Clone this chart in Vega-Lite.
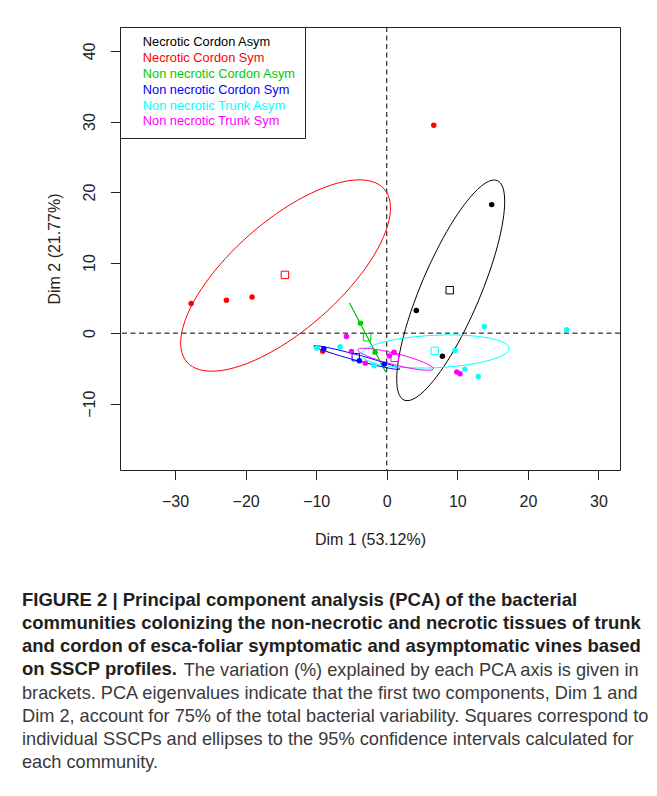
{
  "$schema": "https://vega.github.io/schema/vega-lite/v6.json",
  "autosize": {"type": "none"},
  "width": 500,
  "height": 443,
  "padding": {"left": 120, "top": 27, "right": 37, "bottom": 326},
  "background": "white",
  "datasets": {
    "pts": [
      {"group": "Necrotic Cordon Asym", "x": 14.87, "y": 18.22},
      {"group": "Necrotic Cordon Asym", "x": 4.19, "y": 3.2},
      {"group": "Necrotic Cordon Asym", "x": 7.88, "y": -3.26},
      {"group": "Necrotic Cordon Sym", "x": -27.72, "y": 4.19},
      {"group": "Necrotic Cordon Sym", "x": -22.72, "y": 4.67},
      {"group": "Necrotic Cordon Sym", "x": -19.08, "y": 5.14},
      {"group": "Necrotic Cordon Sym", "x": -9.07, "y": -2.55},
      {"group": "Necrotic Cordon Sym", "x": 6.66, "y": 29.46},
      {"group": "Non necrotic Cordon Asym", "x": -3.74, "y": 1.42},
      {"group": "Non necrotic Cordon Asym", "x": -1.66, "y": -2.69},
      {"group": "Non necrotic Cordon Sym", "x": -8.92, "y": -2.22},
      {"group": "Non necrotic Cordon Sym", "x": -3.88, "y": -3.92},
      {"group": "Non necrotic Cordon Sym", "x": -0.34, "y": -4.39},
      {"group": "Non necrotic Trunk Asym", "x": -9.92, "y": -2.12},
      {"group": "Non necrotic Trunk Asym", "x": -6.61, "y": -1.94},
      {"group": "Non necrotic Trunk Asym", "x": -1.8, "y": -4.63},
      {"group": "Non necrotic Trunk Asym", "x": 9.67, "y": -2.46},
      {"group": "Non necrotic Trunk Asym", "x": 13.82, "y": 0.93},
      {"group": "Non necrotic Trunk Asym", "x": 11.09, "y": -5.1},
      {"group": "Non necrotic Trunk Asym", "x": 12.97, "y": -6.15},
      {"group": "Non necrotic Trunk Asym", "x": 25.5, "y": 0.47},
      {"group": "Non necrotic Trunk Sym", "x": -5.72, "y": -0.48},
      {"group": "Non necrotic Trunk Sym", "x": -5.01, "y": -2.61},
      {"group": "Non necrotic Trunk Sym", "x": -3.03, "y": -4.25},
      {"group": "Non necrotic Trunk Sym", "x": 0.37, "y": -3.22},
      {"group": "Non necrotic Trunk Sym", "x": 1.03, "y": -2.69},
      {"group": "Non necrotic Trunk Sym", "x": 9.92, "y": -5.52},
      {"group": "Non necrotic Trunk Sym", "x": 10.38, "y": -5.76}
    ],
    "ctr": [
      {"group": "Necrotic Cordon Asym", "x": 8.92, "y": 6.09},
      {"group": "Necrotic Cordon Sym", "x": -14.43, "y": 8.26},
      {"group": "Non necrotic Cordon Asym", "x": -2.79, "y": -0.57},
      {"group": "Non necrotic Cordon Sym", "x": -4.39, "y": -3.4},
      {"group": "Non necrotic Trunk Asym", "x": 6.8, "y": -2.51},
      {"group": "Non necrotic Trunk Sym", "x": 1.13, "y": -3.5}
    ],
    "ell": [
      {"group": "Necrotic Cordon Asym", "i": 0, "x": 15.66, "y": 21.63},
      {"group": "Necrotic Cordon Asym", "i": 1, "x": 14.44, "y": 21.52},
      {"group": "Necrotic Cordon Asym", "i": 2, "x": 12.85, "y": 20.36},
      {"group": "Necrotic Cordon Asym", "i": 3, "x": 11.0, "y": 18.23},
      {"group": "Necrotic Cordon Asym", "i": 4, "x": 9.01, "y": 15.27},
      {"group": "Necrotic Cordon Asym", "i": 5, "x": 7.04, "y": 11.68},
      {"group": "Necrotic Cordon Asym", "i": 6, "x": 5.19, "y": 7.71},
      {"group": "Necrotic Cordon Asym", "i": 7, "x": 3.62, "y": 3.63},
      {"group": "Necrotic Cordon Asym", "i": 8, "x": 2.41, "y": -0.29},
      {"group": "Necrotic Cordon Asym", "i": 9, "x": 1.66, "y": -3.77},
      {"group": "Necrotic Cordon Asym", "i": 10, "x": 1.41, "y": -6.58},
      {"group": "Necrotic Cordon Asym", "i": 11, "x": 1.68, "y": -8.53},
      {"group": "Necrotic Cordon Asym", "i": 12, "x": 2.46, "y": -9.49},
      {"group": "Necrotic Cordon Asym", "i": 13, "x": 3.68, "y": -9.38},
      {"group": "Necrotic Cordon Asym", "i": 14, "x": 5.28, "y": -8.22},
      {"group": "Necrotic Cordon Asym", "i": 15, "x": 7.12, "y": -6.09},
      {"group": "Necrotic Cordon Asym", "i": 16, "x": 9.11, "y": -3.13},
      {"group": "Necrotic Cordon Asym", "i": 17, "x": 11.09, "y": 0.46},
      {"group": "Necrotic Cordon Asym", "i": 18, "x": 12.93, "y": 4.43},
      {"group": "Necrotic Cordon Asym", "i": 19, "x": 14.5, "y": 8.51},
      {"group": "Necrotic Cordon Asym", "i": 20, "x": 15.71, "y": 12.43},
      {"group": "Necrotic Cordon Asym", "i": 21, "x": 16.46, "y": 15.91},
      {"group": "Necrotic Cordon Asym", "i": 22, "x": 16.71, "y": 18.72},
      {"group": "Necrotic Cordon Asym", "i": 23, "x": 16.44, "y": 20.67},
      {"group": "Necrotic Cordon Sym", "i": 0, "x": -0.37, "y": 20.45},
      {"group": "Necrotic Cordon Sym", "i": 1, "x": -2.16, "y": 21.52},
      {"group": "Necrotic Cordon Sym", "i": 2, "x": -4.78, "y": 21.69},
      {"group": "Necrotic Cordon Sym", "i": 3, "x": -8.05, "y": 20.94},
      {"group": "Necrotic Cordon Sym", "i": 4, "x": -11.75, "y": 19.32},
      {"group": "Necrotic Cordon Sym", "i": 5, "x": -15.63, "y": 16.94},
      {"group": "Necrotic Cordon Sym", "i": 6, "x": -19.42, "y": 13.96},
      {"group": "Necrotic Cordon Sym", "i": 7, "x": -22.87, "y": 10.58},
      {"group": "Necrotic Cordon Sym", "i": 8, "x": -25.73, "y": 7.04},
      {"group": "Necrotic Cordon Sym", "i": 9, "x": -27.82, "y": 3.58},
      {"group": "Necrotic Cordon Sym", "i": 10, "x": -28.98, "y": 0.43},
      {"group": "Necrotic Cordon Sym", "i": 11, "x": -29.15, "y": -2.19},
      {"group": "Necrotic Cordon Sym", "i": 12, "x": -28.31, "y": -4.11},
      {"group": "Necrotic Cordon Sym", "i": 13, "x": -26.52, "y": -5.18},
      {"group": "Necrotic Cordon Sym", "i": 14, "x": -23.9, "y": -5.35},
      {"group": "Necrotic Cordon Sym", "i": 15, "x": -20.63, "y": -4.6},
      {"group": "Necrotic Cordon Sym", "i": 16, "x": -16.93, "y": -2.98},
      {"group": "Necrotic Cordon Sym", "i": 17, "x": -13.05, "y": -0.6},
      {"group": "Necrotic Cordon Sym", "i": 18, "x": -9.26, "y": 2.39},
      {"group": "Necrotic Cordon Sym", "i": 19, "x": -5.82, "y": 5.76},
      {"group": "Necrotic Cordon Sym", "i": 20, "x": -2.95, "y": 9.3},
      {"group": "Necrotic Cordon Sym", "i": 21, "x": -0.87, "y": 12.76},
      {"group": "Necrotic Cordon Sym", "i": 22, "x": 0.3, "y": 15.91},
      {"group": "Necrotic Cordon Sym", "i": 23, "x": 0.47, "y": 18.53},
      {"group": "Non necrotic Cordon Asym", "i": 0, "x": -5.27, "y": 4.28},
      {"group": "Non necrotic Cordon Asym", "i": 1, "x": -0.13, "y": -5.56},
      {"group": "Non necrotic Cordon Sym", "i": 0, "x": 1.85, "y": -5.11},
      {"group": "Non necrotic Cordon Sym", "i": 1, "x": 1.67, "y": -4.95},
      {"group": "Non necrotic Cordon Sym", "i": 2, "x": 1.09, "y": -4.69},
      {"group": "Non necrotic Cordon Sym", "i": 3, "x": 0.14, "y": -4.35},
      {"group": "Non necrotic Cordon Sym", "i": 4, "x": -1.11, "y": -3.95},
      {"group": "Non necrotic Cordon Sym", "i": 5, "x": -2.57, "y": -3.51},
      {"group": "Non necrotic Cordon Sym", "i": 6, "x": -4.15, "y": -3.07},
      {"group": "Non necrotic Cordon Sym", "i": 7, "x": -5.73, "y": -2.66},
      {"group": "Non necrotic Cordon Sym", "i": 8, "x": -7.21, "y": -2.3},
      {"group": "Non necrotic Cordon Sym", "i": 9, "x": -8.49, "y": -2.02},
      {"group": "Non necrotic Cordon Sym", "i": 10, "x": -9.48, "y": -1.84},
      {"group": "Non necrotic Cordon Sym", "i": 11, "x": -10.12, "y": -1.77},
      {"group": "Non necrotic Cordon Sym", "i": 12, "x": -10.35, "y": -1.81},
      {"group": "Non necrotic Cordon Sym", "i": 13, "x": -10.17, "y": -1.97},
      {"group": "Non necrotic Cordon Sym", "i": 14, "x": -9.59, "y": -2.23},
      {"group": "Non necrotic Cordon Sym", "i": 15, "x": -8.64, "y": -2.57},
      {"group": "Non necrotic Cordon Sym", "i": 16, "x": -7.39, "y": -2.97},
      {"group": "Non necrotic Cordon Sym", "i": 17, "x": -5.93, "y": -3.41},
      {"group": "Non necrotic Cordon Sym", "i": 18, "x": -4.35, "y": -3.85},
      {"group": "Non necrotic Cordon Sym", "i": 19, "x": -2.77, "y": -4.26},
      {"group": "Non necrotic Cordon Sym", "i": 20, "x": -1.29, "y": -4.62},
      {"group": "Non necrotic Cordon Sym", "i": 21, "x": -0.01, "y": -4.9},
      {"group": "Non necrotic Cordon Sym", "i": 22, "x": 0.98, "y": -5.08},
      {"group": "Non necrotic Cordon Sym", "i": 23, "x": 1.62, "y": -5.15},
      {"group": "Non necrotic Trunk Asym", "i": 0, "x": 17.34, "y": -2.14},
      {"group": "Non necrotic Trunk Asym", "i": 1, "x": 16.96, "y": -1.57},
      {"group": "Non necrotic Trunk Asym", "i": 2, "x": 15.89, "y": -1.06},
      {"group": "Non necrotic Trunk Asym", "i": 3, "x": 14.21, "y": -0.65},
      {"group": "Non necrotic Trunk Asym", "i": 4, "x": 12.03, "y": -0.38},
      {"group": "Non necrotic Trunk Asym", "i": 5, "x": 9.51, "y": -0.26},
      {"group": "Non necrotic Trunk Asym", "i": 6, "x": 6.8, "y": -0.3},
      {"group": "Non necrotic Trunk Asym", "i": 7, "x": 4.1, "y": -0.5},
      {"group": "Non necrotic Trunk Asym", "i": 8, "x": 1.59, "y": -0.84},
      {"group": "Non necrotic Trunk Asym", "i": 9, "x": -0.55, "y": -1.3},
      {"group": "Non necrotic Trunk Asym", "i": 10, "x": -2.19, "y": -1.85},
      {"group": "Non necrotic Trunk Asym", "i": 11, "x": -3.21, "y": -2.45},
      {"group": "Non necrotic Trunk Asym", "i": 12, "x": -3.54, "y": -3.06},
      {"group": "Non necrotic Trunk Asym", "i": 13, "x": -3.16, "y": -3.64},
      {"group": "Non necrotic Trunk Asym", "i": 14, "x": -2.09, "y": -4.14},
      {"group": "Non necrotic Trunk Asym", "i": 15, "x": -0.41, "y": -4.55},
      {"group": "Non necrotic Trunk Asym", "i": 16, "x": 1.77, "y": -4.82},
      {"group": "Non necrotic Trunk Asym", "i": 17, "x": 4.3, "y": -4.94},
      {"group": "Non necrotic Trunk Asym", "i": 18, "x": 7.0, "y": -4.9},
      {"group": "Non necrotic Trunk Asym", "i": 19, "x": 9.7, "y": -4.7},
      {"group": "Non necrotic Trunk Asym", "i": 20, "x": 12.21, "y": -4.36},
      {"group": "Non necrotic Trunk Asym", "i": 21, "x": 14.35, "y": -3.9},
      {"group": "Non necrotic Trunk Asym", "i": 22, "x": 15.99, "y": -3.35},
      {"group": "Non necrotic Trunk Asym", "i": 23, "x": 17.01, "y": -2.76},
      {"group": "Non necrotic Trunk Sym", "i": 0, "x": 6.6, "y": -5.05},
      {"group": "Non necrotic Trunk Sym", "i": 1, "x": 6.47, "y": -4.81},
      {"group": "Non necrotic Trunk Sym", "i": 2, "x": 5.98, "y": -4.49},
      {"group": "Non necrotic Trunk Sym", "i": 3, "x": 5.17, "y": -4.11},
      {"group": "Non necrotic Trunk Sym", "i": 4, "x": 4.1, "y": -3.71},
      {"group": "Non necrotic Trunk Sym", "i": 5, "x": 2.83, "y": -3.3},
      {"group": "Non necrotic Trunk Sym", "i": 6, "x": 1.45, "y": -2.92},
      {"group": "Non necrotic Trunk Sym", "i": 7, "x": 0.06, "y": -2.6},
      {"group": "Non necrotic Trunk Sym", "i": 8, "x": -1.26, "y": -2.35},
      {"group": "Non necrotic Trunk Sym", "i": 9, "x": -2.4, "y": -2.2},
      {"group": "Non necrotic Trunk Sym", "i": 10, "x": -3.29, "y": -2.14},
      {"group": "Non necrotic Trunk Sym", "i": 11, "x": -3.87, "y": -2.19},
      {"group": "Non necrotic Trunk Sym", "i": 12, "x": -4.1, "y": -2.35},
      {"group": "Non necrotic Trunk Sym", "i": 13, "x": -3.97, "y": -2.59},
      {"group": "Non necrotic Trunk Sym", "i": 14, "x": -3.48, "y": -2.92},
      {"group": "Non necrotic Trunk Sym", "i": 15, "x": -2.67, "y": -3.29},
      {"group": "Non necrotic Trunk Sym", "i": 16, "x": -1.6, "y": -3.7},
      {"group": "Non necrotic Trunk Sym", "i": 17, "x": -0.33, "y": -4.1},
      {"group": "Non necrotic Trunk Sym", "i": 18, "x": 1.05, "y": -4.48},
      {"group": "Non necrotic Trunk Sym", "i": 19, "x": 2.45, "y": -4.8},
      {"group": "Non necrotic Trunk Sym", "i": 20, "x": 3.76, "y": -5.05},
      {"group": "Non necrotic Trunk Sym", "i": 21, "x": 4.9, "y": -5.21},
      {"group": "Non necrotic Trunk Sym", "i": 22, "x": 5.79, "y": -5.26},
      {"group": "Non necrotic Trunk Sym", "i": 23, "x": 6.37, "y": -5.21}
    ],
    "origin": [{"x": 0, "y": 0}]
  },
  "title": {
    "text": [
      "FIGURE 2 | Principal component analysis (PCA) of the bacterial",
      "communities colonizing the non-necrotic and necrotic tissues of trunk",
      "and cordon of esca-foliar symptomatic and asymptomatic vines based",
      "on SSCP profiles."
    ],
    "subtitle": [
      "\u200b\u00a0\u00a0\u00a0\u00a0\u00a0\u00a0\u00a0\u00a0\u00a0\u00a0\u00a0\u00a0\u00a0\u00a0\u00a0\u00a0\u00a0\u00a0\u00a0\u00a0\u00a0\u00a0\u00a0\u00a0\u00a0\u00a0\u00a0\u00a0\u00a0\u00a0\u00a0\u00a0The variation (%) explained by each PCA axis is given in",
      "brackets. PCA eigenvalues indicate that the first two components, Dim 1 and",
      "Dim 2, account for 75% of the total bacterial variability. Squares correspond to",
      "individual SSCPs and ellipses to the 95% confidence intervals calculated for",
      "each community."
    ],
    "orient": "bottom",
    "anchor": "start",
    "frame": "group",
    "dx": -98,
    "offset": 44,
    "font": "Liberation Sans",
    "fontSize": 18.5,
    "fontWeight": "bold",
    "color": "#231f20",
    "lineHeight": 23,
    "limit": 0,
    "subtitleFont": "Liberation Sans",
    "subtitleFontSize": 18.2,
    "subtitleFontWeight": "normal",
    "subtitleColor": "#3a3a3a",
    "subtitleLineHeight": 23,
    "subtitlePadding": -17
  },
  "layer": [
    {
      "data": {"name": "origin"},
      "mark": {"type": "rule", "color": "black", "strokeWidth": 1, "strokeDash": [5, 3.5]},
      "encoding": {
        "x": {"field": "x", "type": "quantitative", "title": "Dim 1 (53.12%)", "scale": {"domain": [-37.8, 33.05], "nice": false, "zero": false}}
      }
    },
    {
      "data": {"name": "origin"},
      "mark": {"type": "rule", "color": "black", "strokeWidth": 1, "strokeDash": [5, 3.5]},
      "encoding": {
        "y": {"field": "y", "type": "quantitative", "title": "Dim 2 (21.77%)", "scale": {"domain": [-19.4, 43.4], "nice": false, "zero": false}}
      }
    },
    {
      "data": {"name": "ell"},
      "mark": {"type": "line", "interpolate": "cardinal-closed", "strokeWidth": 1},
      "encoding": {
        "x": {"field": "x", "type": "quantitative", "title": "Dim 1 (53.12%)", "scale": {"domain": [-37.8, 33.05], "nice": false, "zero": false}, "axis": {"values": [-30, -20, -10, 0, 10, 20, 30]}},
        "y": {"field": "y", "type": "quantitative", "title": "Dim 2 (21.77%)", "scale": {"domain": [-19.4, 43.4], "nice": false, "zero": false}, "axis": {"values": [-10, 0, 10, 20, 30, 40]}},
        "color": {
          "field": "group", "type": "nominal", "title": null,
          "legend": {"encode": {"labels": {"update": {"fill": {"scale": "color", "field": "value"}}}}}
        },
        "detail": {"field": "group"},
        "order": {"field": "i", "type": "quantitative"}
      }
    },
    {
      "data": {"name": "pts"},
      "mark": {"type": "point", "shape": "circle", "filled": true, "size": 30, "opacity": 1},
      "encoding": {
        "x": {"field": "x", "type": "quantitative", "title": "Dim 1 (53.12%)"},
        "y": {"field": "y", "type": "quantitative", "title": "Dim 2 (21.77%)"},
        "color": {"field": "group", "type": "nominal", "title": null}
      }
    },
    {
      "data": {"name": "ctr"},
      "mark": {"type": "point", "shape": "square", "filled": false, "size": 55, "strokeWidth": 1, "opacity": 1},
      "encoding": {
        "x": {"field": "x", "type": "quantitative", "title": "Dim 1 (53.12%)"},
        "y": {"field": "y", "type": "quantitative", "title": "Dim 2 (21.77%)"},
        "color": {"field": "group", "type": "nominal", "title": null}
      }
    }
  ],
  "resolve": {"scale": {"color": "shared"}},
  "config": {
    "view": {"stroke": "#222222", "strokeWidth": 1},
    "range": {"category": ["#000000", "#FF0000", "#00CD00", "#0000FF", "#00FFFF", "#FF00FF"]},
    "axis": {
      "grid": false,
      "domain": false,
      "ticks": true,
      "tickColor": "#222222",
      "tickSize": 9.6,
      "tickWidth": 1,
      "labelFont": "Liberation Sans",
      "labelFontSize": 16,
      "labelColor": "#222222",
      "titleFont": "Liberation Sans",
      "titleFontSize": 16,
      "titleFontWeight": "normal",
      "titleColor": "#222222",
      "labelFlush": false,
      "labelOverlap": false
    },
    "axisX": {"labelPadding": 13.5, "titlePadding": 22, "labelBaseline": "top"},
    "axisY": {"labelAngle": 270, "labelAlign": "center", "labelBaseline": "bottom", "labelPadding": 13, "titlePadding": 19},
    "legend": {
      "orient": "top-left",
      "offset": 0,
      "title": null,
      "padding": 9,
      "strokeColor": "#222222",
      "fillColor": "white",
      "symbolSize": 1,
      "symbolOpacity": 0,
      "symbolStrokeWidth": 0,
      "labelOffset": 1,
      "labelFont": "Liberation Sans",
      "labelFontSize": 12.8,
      "rowPadding": 1.8,
      "labelLimit": 300,
      "cornerRadius": 0
    }
  }
}
